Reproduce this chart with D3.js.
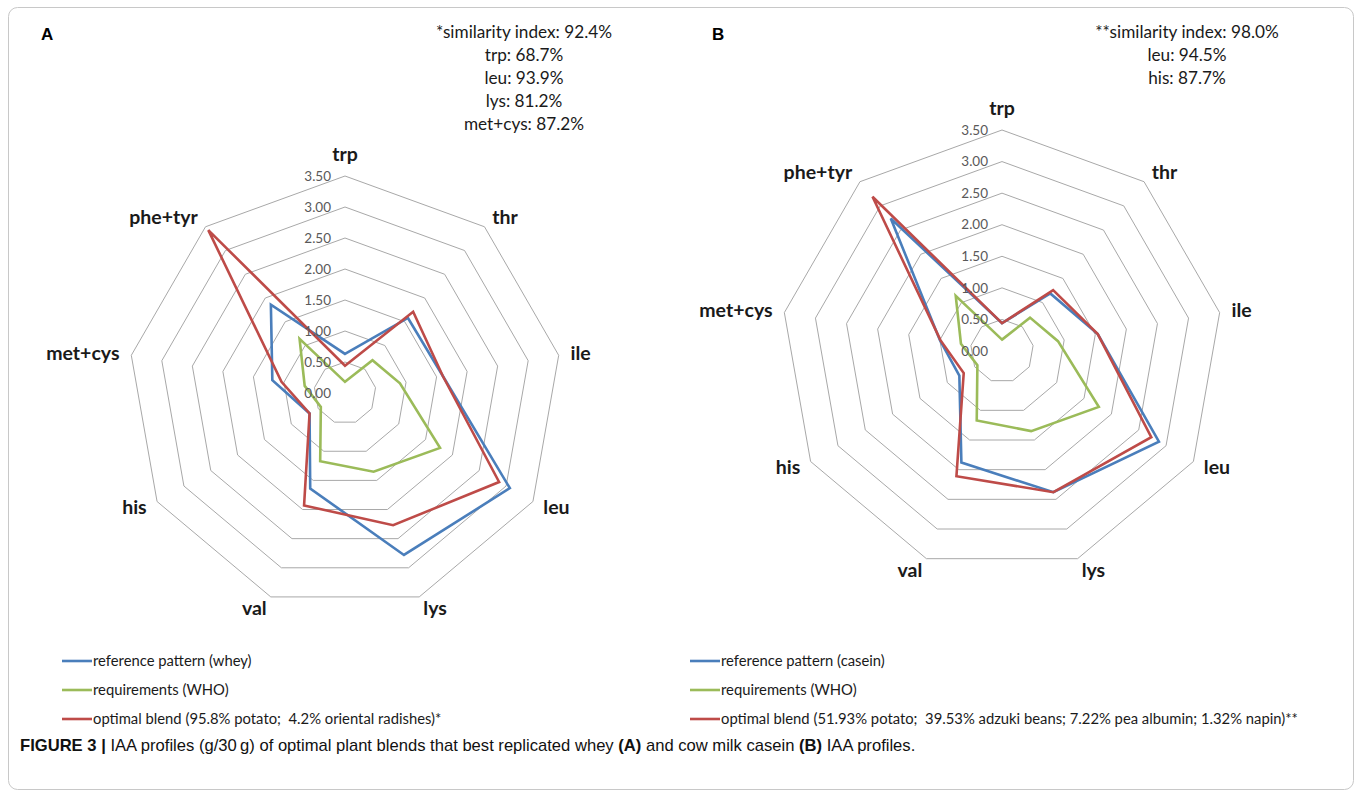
<!DOCTYPE html>
<html>
<head>
<meta charset="utf-8">
<script src="https://cdn.jsdelivr.net/npm/d3@7"></script>
<style>
  html, body { margin: 0; padding: 0; background: #fff; }
  svg { display: block; }
  text { white-space: pre; }
</style>
</head>
<body>
<svg id="chart" width="1362" height="798"></svg>
<script>
// ---- data ----
const categories = ["trp", "thr", "ile", "leu", "lys", "val", "his", "met+cys", "phe+tyr"];
const tickValues = [0, 0.5, 1.0, 1.5, 2.0, 2.5, 3.0, 3.5];

const whoRequirements = [0.18, 0.69, 0.90, 1.77, 1.35, 1.17, 0.45, 0.66, 1.14];
const wheyReference   = [0.63, 1.58, 1.60, 3.07, 2.78, 1.64, 0.66, 1.19, 1.86];
const blendA          = [0.44, 1.71, 1.60, 2.87, 2.27, 1.93, 0.66, 1.04, 3.43];
const caseinReference = [0.44, 1.19, 1.54, 2.87, 2.38, 1.88, 0.78, 1.00, 2.74];
const blendB          = [0.44, 1.26, 1.54, 2.73, 2.38, 2.11, 0.70, 0.99, 3.19];

const legendA = ["reference pattern (whey)", "requirements (WHO)", "optimal blend (95.8% potato;  4.2% oriental radishes)*"];
const legendB = ["reference pattern (casein)", "requirements (WHO)", "optimal blend (51.93% potato;  39.53% adzuki beans; 7.22% pea albumin; 1.32% napin)**"];
const noteA = ["*similarity index: 92.4%", "trp: 68.7%", "leu: 93.9%", "lys: 81.2%", "met+cys: 87.2%"];
const noteB = ["**similarity index: 98.0%", "leu: 94.5%", "his: 87.7%"];

const colors = ["#4A7EBB", "#9BBB59", "#BE4B48"];

// ---- drawing ----
const svg = d3.select("#chart");

svg.append("rect")
  .attr("x", 8.5).attr("y", 7.5).attr("width", 1345).attr("height", 782)
  .attr("rx", 9).attr("fill", "none").attr("stroke", "#c8c8c8").attr("stroke-width", 1);

function radar(opts) {
  const g = svg.append("g").attr("transform", `translate(${opts.cx},${opts.cy})`);
  const r = d3.scaleLinear().domain([0, 3.5]).range([0, opts.R]);
  const angle = d3.scalePoint().domain(categories).range([0, 2 * Math.PI * (categories.length - 1) / categories.length]);

  const ringLine = d3.lineRadial()
    .angle(d => angle(d.c)).radius(d => r(d.v)).curve(d3.curveLinearClosed);

  // grid rings
  tickValues.filter(v => v > 0).forEach(v => {
    g.append("path")
      .attr("d", ringLine(categories.map(c => ({ c, v }))))
      .attr("fill", "none").attr("stroke", "#a8a8a8").attr("stroke-width", 1);
  });

  // series
  opts.series.forEach((vals, i) => {
    g.append("path")
      .attr("d", ringLine(categories.map((c, j) => ({ c, v: vals[j] }))))
      .attr("fill", "none").attr("stroke", colors[i]).attr("stroke-width", 2.6)
      .attr("stroke-linejoin", "miter");
  });

  // tick labels
  g.selectAll("text.tick").data(tickValues).join("text")
    .attr("class", "tick")
    .attr("x", -14).attr("y", d => -r(d))
    .attr("dy", "0.35em")
    .attr("text-anchor", "end")
    .attr("font-family", "Lato, 'Open Sans', sans-serif")
    .attr("font-size", 13.5).attr("fill", "#595959")
    .text(d => d.toFixed(2));

  // category labels
  categories.forEach(c => {
    const a = angle(c);
    const sx = Math.sin(a), cy = -Math.cos(a);
    const rr = opts.R + 12;
    let x = rr * sx, y = rr * cy;
    let anchor = Math.abs(sx) < 0.01 ? "middle" : (sx > 0 ? "start" : "end");
    if (Math.abs(sx) < 0.01) y = -(opts.R + 22);
    g.append("text")
      .attr("x", x).attr("y", y).attr("dy", "0.35em")
      .attr("text-anchor", anchor)
      .attr("font-family", "Lato, sans-serif").attr("font-weight", "bold")
      .attr("font-size", 19.5).attr("fill", "#1a1a1a")
      .text(c);
  });

  // panel letter
  svg.append("text")
    .attr("x", opts.letterX).attr("y", 40)
    .attr("font-family", "'Liberation Sans', Arial, sans-serif").attr("font-weight", "bold")
    .attr("font-size", 17).attr("fill", "#000").text(opts.letter);

  // similarity note
  opts.note.forEach((t, i) => {
    svg.append("text")
      .attr("x", opts.noteX).attr("y", 32 + i * 23).attr("dy", "0.35em")
      .attr("text-anchor", "middle")
      .attr("font-family", "Lato, sans-serif").attr("font-size", 17.2).attr("fill", "#1a1a1a")
      .text(t);
  });

  // legend
  opts.legend.forEach((t, i) => {
    const y = 661 + i * 29;
    svg.append("line")
      .attr("x1", opts.legX).attr("x2", opts.legX + 30).attr("y1", y).attr("y2", y)
      .attr("stroke", colors[i]).attr("stroke-width", 2.6);
    svg.append("text")
      .attr("x", opts.legX + 31).attr("y", y).attr("dy", "0.35em")
      .attr("font-family", "Lato, sans-serif").attr("font-size", 14.8).attr("fill", "#1a1a1a")
      .text(t);
  });
}

radar({ cx: 345, cy: 393, R: 217, series: [wheyReference, whoRequirements, blendA],
        letter: "A", letterX: 41, note: noteA, noteX: 524, legend: legendA, legX: 62 });
radar({ cx: 1002, cy: 351, R: 221, series: [caseinReference, whoRequirements, blendB],
        letter: "B", letterX: 712, note: noteB, noteX: 1187, legend: legendB, legX: 690 });

// caption
const cap = svg.append("text")
  .attr("x", 20).attr("y", 745).attr("dy", "0.35em")
  .attr("font-family", "'Liberation Sans', Arial, sans-serif").attr("font-size", 16.6).attr("fill", "#111");
const parts = [["FIGURE 3 | ", true], ["IAA profiles (g/30\u2009g) of optimal plant blends that best replicated whey ", false],
               ["(A)", true], [" and cow milk casein ", false], ["(B)", true], [" IAA profiles.", false]];
parts.forEach(([t, b]) => cap.append("tspan").attr("font-weight", b ? "bold" : "normal").text(t));
</script>
</body>
</html>
